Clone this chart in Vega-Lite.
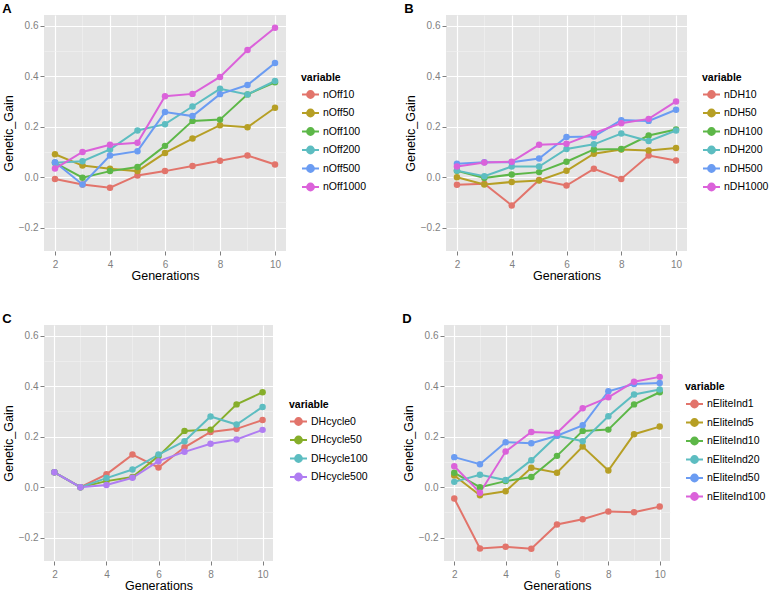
{
  "$schema": "https://vega.github.io/schema/vega-lite/v6.json",
  "padding": {"left": 2, "top": 3, "right": 0, "bottom": 0},
  "background": "white",
  "datasets": {
    "A": [
      {"Generations":2,"variable":"nOff10","Genetic_Gain":-0.007},{"Generations":3,"variable":"nOff10","Genetic_Gain":-0.029},{"Generations":4,"variable":"nOff10","Genetic_Gain":-0.042},{"Generations":5,"variable":"nOff10","Genetic_Gain":0.007},{"Generations":6,"variable":"nOff10","Genetic_Gain":0.024},{"Generations":7,"variable":"nOff10","Genetic_Gain":0.044},{"Generations":8,"variable":"nOff10","Genetic_Gain":0.065},{"Generations":9,"variable":"nOff10","Genetic_Gain":0.086},{"Generations":10,"variable":"nOff10","Genetic_Gain":0.050},
      {"Generations":2,"variable":"nOff50","Genetic_Gain":0.091},{"Generations":3,"variable":"nOff50","Genetic_Gain":0.046},{"Generations":4,"variable":"nOff50","Genetic_Gain":0.033},{"Generations":5,"variable":"nOff50","Genetic_Gain":0.024},{"Generations":6,"variable":"nOff50","Genetic_Gain":0.096},{"Generations":7,"variable":"nOff50","Genetic_Gain":0.153},{"Generations":8,"variable":"nOff50","Genetic_Gain":0.206},{"Generations":9,"variable":"nOff50","Genetic_Gain":0.198},{"Generations":10,"variable":"nOff50","Genetic_Gain":0.275},
      {"Generations":2,"variable":"nOff100","Genetic_Gain":0.057},{"Generations":3,"variable":"nOff100","Genetic_Gain":-0.002},{"Generations":4,"variable":"nOff100","Genetic_Gain":0.024},{"Generations":5,"variable":"nOff100","Genetic_Gain":0.040},{"Generations":6,"variable":"nOff100","Genetic_Gain":0.124},{"Generations":7,"variable":"nOff100","Genetic_Gain":0.223},{"Generations":8,"variable":"nOff100","Genetic_Gain":0.228},{"Generations":9,"variable":"nOff100","Genetic_Gain":0.328},{"Generations":10,"variable":"nOff100","Genetic_Gain":0.376},
      {"Generations":2,"variable":"nOff200","Genetic_Gain":0.057},{"Generations":3,"variable":"nOff200","Genetic_Gain":0.063},{"Generations":4,"variable":"nOff200","Genetic_Gain":0.110},{"Generations":5,"variable":"nOff200","Genetic_Gain":0.185},{"Generations":6,"variable":"nOff200","Genetic_Gain":0.210},{"Generations":7,"variable":"nOff200","Genetic_Gain":0.280},{"Generations":8,"variable":"nOff200","Genetic_Gain":0.350},{"Generations":9,"variable":"nOff200","Genetic_Gain":0.328},{"Generations":10,"variable":"nOff200","Genetic_Gain":0.381},
      {"Generations":2,"variable":"nOff500","Genetic_Gain":0.059},{"Generations":3,"variable":"nOff500","Genetic_Gain":-0.029},{"Generations":4,"variable":"nOff500","Genetic_Gain":0.086},{"Generations":5,"variable":"nOff500","Genetic_Gain":0.103},{"Generations":6,"variable":"nOff500","Genetic_Gain":0.258},{"Generations":7,"variable":"nOff500","Genetic_Gain":0.242},{"Generations":8,"variable":"nOff500","Genetic_Gain":0.329},{"Generations":9,"variable":"nOff500","Genetic_Gain":0.365},{"Generations":10,"variable":"nOff500","Genetic_Gain":0.452},
      {"Generations":2,"variable":"nOff1000","Genetic_Gain":0.034},{"Generations":3,"variable":"nOff1000","Genetic_Gain":0.100},{"Generations":4,"variable":"nOff1000","Genetic_Gain":0.128},{"Generations":5,"variable":"nOff1000","Genetic_Gain":0.136},{"Generations":6,"variable":"nOff1000","Genetic_Gain":0.321},{"Generations":7,"variable":"nOff1000","Genetic_Gain":0.330},{"Generations":8,"variable":"nOff1000","Genetic_Gain":0.397},{"Generations":9,"variable":"nOff1000","Genetic_Gain":0.504},{"Generations":10,"variable":"nOff1000","Genetic_Gain":0.592}
    ],
    "B": [
      {"Generations":2,"variable":"nDH10","Genetic_Gain":-0.030},{"Generations":3,"variable":"nDH10","Genetic_Gain":-0.026},{"Generations":4,"variable":"nDH10","Genetic_Gain":-0.112},{"Generations":5,"variable":"nDH10","Genetic_Gain":-0.011},{"Generations":6,"variable":"nDH10","Genetic_Gain":-0.033},{"Generations":7,"variable":"nDH10","Genetic_Gain":0.033},{"Generations":8,"variable":"nDH10","Genetic_Gain":-0.007},{"Generations":9,"variable":"nDH10","Genetic_Gain":0.086},{"Generations":10,"variable":"nDH10","Genetic_Gain":0.066},
      {"Generations":2,"variable":"nDH50","Genetic_Gain":0.000},{"Generations":3,"variable":"nDH50","Genetic_Gain":-0.029},{"Generations":4,"variable":"nDH50","Genetic_Gain":-0.019},{"Generations":5,"variable":"nDH50","Genetic_Gain":-0.013},{"Generations":6,"variable":"nDH50","Genetic_Gain":0.025},{"Generations":7,"variable":"nDH50","Genetic_Gain":0.093},{"Generations":8,"variable":"nDH50","Genetic_Gain":0.110},{"Generations":9,"variable":"nDH50","Genetic_Gain":0.106},{"Generations":10,"variable":"nDH50","Genetic_Gain":0.116},
      {"Generations":2,"variable":"nDH100","Genetic_Gain":0.025},{"Generations":3,"variable":"nDH100","Genetic_Gain":-0.003},{"Generations":4,"variable":"nDH100","Genetic_Gain":0.011},{"Generations":5,"variable":"nDH100","Genetic_Gain":0.020},{"Generations":6,"variable":"nDH100","Genetic_Gain":0.061},{"Generations":7,"variable":"nDH100","Genetic_Gain":0.110},{"Generations":8,"variable":"nDH100","Genetic_Gain":0.112},{"Generations":9,"variable":"nDH100","Genetic_Gain":0.165},{"Generations":10,"variable":"nDH100","Genetic_Gain":0.189},
      {"Generations":2,"variable":"nDH200","Genetic_Gain":0.026},{"Generations":3,"variable":"nDH200","Genetic_Gain":0.004},{"Generations":4,"variable":"nDH200","Genetic_Gain":0.042},{"Generations":5,"variable":"nDH200","Genetic_Gain":0.042},{"Generations":6,"variable":"nDH200","Genetic_Gain":0.112},{"Generations":7,"variable":"nDH200","Genetic_Gain":0.130},{"Generations":8,"variable":"nDH200","Genetic_Gain":0.173},{"Generations":9,"variable":"nDH200","Genetic_Gain":0.143},{"Generations":10,"variable":"nDH200","Genetic_Gain":0.185},
      {"Generations":2,"variable":"nDH500","Genetic_Gain":0.053},{"Generations":3,"variable":"nDH500","Genetic_Gain":0.059},{"Generations":4,"variable":"nDH500","Genetic_Gain":0.059},{"Generations":5,"variable":"nDH500","Genetic_Gain":0.074},{"Generations":6,"variable":"nDH500","Genetic_Gain":0.159},{"Generations":7,"variable":"nDH500","Genetic_Gain":0.161},{"Generations":8,"variable":"nDH500","Genetic_Gain":0.226},{"Generations":9,"variable":"nDH500","Genetic_Gain":0.223},{"Generations":10,"variable":"nDH500","Genetic_Gain":0.267},
      {"Generations":2,"variable":"nDH1000","Genetic_Gain":0.042},{"Generations":3,"variable":"nDH1000","Genetic_Gain":0.058},{"Generations":4,"variable":"nDH1000","Genetic_Gain":0.061},{"Generations":5,"variable":"nDH1000","Genetic_Gain":0.128},{"Generations":6,"variable":"nDH1000","Genetic_Gain":0.132},{"Generations":7,"variable":"nDH1000","Genetic_Gain":0.174},{"Generations":8,"variable":"nDH1000","Genetic_Gain":0.214},{"Generations":9,"variable":"nDH1000","Genetic_Gain":0.231},{"Generations":10,"variable":"nDH1000","Genetic_Gain":0.300}
    ],
    "C": [
      {"Generations":2,"variable":"DHcycle0","Genetic_Gain":0.059},{"Generations":3,"variable":"DHcycle0","Genetic_Gain":0.0},{"Generations":4,"variable":"DHcycle0","Genetic_Gain":0.051},{"Generations":5,"variable":"DHcycle0","Genetic_Gain":0.129},{"Generations":6,"variable":"DHcycle0","Genetic_Gain":0.078},{"Generations":7,"variable":"DHcycle0","Genetic_Gain":0.158},{"Generations":8,"variable":"DHcycle0","Genetic_Gain":0.219},{"Generations":9,"variable":"DHcycle0","Genetic_Gain":0.231},{"Generations":10,"variable":"DHcycle0","Genetic_Gain":0.266},
      {"Generations":2,"variable":"DHcycle50","Genetic_Gain":0.059},{"Generations":3,"variable":"DHcycle50","Genetic_Gain":0.0},{"Generations":4,"variable":"DHcycle50","Genetic_Gain":0.024},{"Generations":5,"variable":"DHcycle50","Genetic_Gain":0.040},{"Generations":6,"variable":"DHcycle50","Genetic_Gain":0.123},{"Generations":7,"variable":"DHcycle50","Genetic_Gain":0.223},{"Generations":8,"variable":"DHcycle50","Genetic_Gain":0.228},{"Generations":9,"variable":"DHcycle50","Genetic_Gain":0.328},{"Generations":10,"variable":"DHcycle50","Genetic_Gain":0.376},
      {"Generations":2,"variable":"DHcycle100","Genetic_Gain":0.059},{"Generations":3,"variable":"DHcycle100","Genetic_Gain":0.0},{"Generations":4,"variable":"DHcycle100","Genetic_Gain":0.036},{"Generations":5,"variable":"DHcycle100","Genetic_Gain":0.070},{"Generations":6,"variable":"DHcycle100","Genetic_Gain":0.129},{"Generations":7,"variable":"DHcycle100","Genetic_Gain":0.182},{"Generations":8,"variable":"DHcycle100","Genetic_Gain":0.280},{"Generations":9,"variable":"DHcycle100","Genetic_Gain":0.248},{"Generations":10,"variable":"DHcycle100","Genetic_Gain":0.318},
      {"Generations":2,"variable":"DHcycle500","Genetic_Gain":0.059},{"Generations":3,"variable":"DHcycle500","Genetic_Gain":0.0},{"Generations":4,"variable":"DHcycle500","Genetic_Gain":0.009},{"Generations":5,"variable":"DHcycle500","Genetic_Gain":0.037},{"Generations":6,"variable":"DHcycle500","Genetic_Gain":0.103},{"Generations":7,"variable":"DHcycle500","Genetic_Gain":0.140},{"Generations":8,"variable":"DHcycle500","Genetic_Gain":0.172},{"Generations":9,"variable":"DHcycle500","Genetic_Gain":0.189},{"Generations":10,"variable":"DHcycle500","Genetic_Gain":0.227}
    ],
    "D": [
      {"Generations":2,"variable":"nEliteInd1","Genetic_Gain":-0.045},{"Generations":3,"variable":"nEliteInd1","Genetic_Gain":-0.243},{"Generations":4,"variable":"nEliteInd1","Genetic_Gain":-0.236},{"Generations":5,"variable":"nEliteInd1","Genetic_Gain":-0.244},{"Generations":6,"variable":"nEliteInd1","Genetic_Gain":-0.148},{"Generations":7,"variable":"nEliteInd1","Genetic_Gain":-0.127},{"Generations":8,"variable":"nEliteInd1","Genetic_Gain":-0.096},{"Generations":9,"variable":"nEliteInd1","Genetic_Gain":-0.099},{"Generations":10,"variable":"nEliteInd1","Genetic_Gain":-0.077},
      {"Generations":2,"variable":"nEliteInd5","Genetic_Gain":0.046},{"Generations":3,"variable":"nEliteInd5","Genetic_Gain":-0.032},{"Generations":4,"variable":"nEliteInd5","Genetic_Gain":-0.016},{"Generations":5,"variable":"nEliteInd5","Genetic_Gain":0.077},{"Generations":6,"variable":"nEliteInd5","Genetic_Gain":0.057},{"Generations":7,"variable":"nEliteInd5","Genetic_Gain":0.161},{"Generations":8,"variable":"nEliteInd5","Genetic_Gain":0.066},{"Generations":9,"variable":"nEliteInd5","Genetic_Gain":0.210},{"Generations":10,"variable":"nEliteInd5","Genetic_Gain":0.240},
      {"Generations":2,"variable":"nEliteInd10","Genetic_Gain":0.057},{"Generations":3,"variable":"nEliteInd10","Genetic_Gain":0.0},{"Generations":4,"variable":"nEliteInd10","Genetic_Gain":0.024},{"Generations":5,"variable":"nEliteInd10","Genetic_Gain":0.040},{"Generations":6,"variable":"nEliteInd10","Genetic_Gain":0.124},{"Generations":7,"variable":"nEliteInd10","Genetic_Gain":0.223},{"Generations":8,"variable":"nEliteInd10","Genetic_Gain":0.228},{"Generations":9,"variable":"nEliteInd10","Genetic_Gain":0.328},{"Generations":10,"variable":"nEliteInd10","Genetic_Gain":0.376},
      {"Generations":2,"variable":"nEliteInd20","Genetic_Gain":0.021},{"Generations":3,"variable":"nEliteInd20","Genetic_Gain":0.049},{"Generations":4,"variable":"nEliteInd20","Genetic_Gain":0.028},{"Generations":5,"variable":"nEliteInd20","Genetic_Gain":0.107},{"Generations":6,"variable":"nEliteInd20","Genetic_Gain":0.204},{"Generations":7,"variable":"nEliteInd20","Genetic_Gain":0.182},{"Generations":8,"variable":"nEliteInd20","Genetic_Gain":0.281},{"Generations":9,"variable":"nEliteInd20","Genetic_Gain":0.367},{"Generations":10,"variable":"nEliteInd20","Genetic_Gain":0.387},
      {"Generations":2,"variable":"nEliteInd50","Genetic_Gain":0.119},{"Generations":3,"variable":"nEliteInd50","Genetic_Gain":0.091},{"Generations":4,"variable":"nEliteInd50","Genetic_Gain":0.178},{"Generations":5,"variable":"nEliteInd50","Genetic_Gain":0.174},{"Generations":6,"variable":"nEliteInd50","Genetic_Gain":0.204},{"Generations":7,"variable":"nEliteInd50","Genetic_Gain":0.245},{"Generations":8,"variable":"nEliteInd50","Genetic_Gain":0.380},{"Generations":9,"variable":"nEliteInd50","Genetic_Gain":0.409},{"Generations":10,"variable":"nEliteInd50","Genetic_Gain":0.413},
      {"Generations":2,"variable":"nEliteInd100","Genetic_Gain":0.083},{"Generations":3,"variable":"nEliteInd100","Genetic_Gain":-0.022},{"Generations":4,"variable":"nEliteInd100","Genetic_Gain":0.141},{"Generations":5,"variable":"nEliteInd100","Genetic_Gain":0.219},{"Generations":6,"variable":"nEliteInd100","Genetic_Gain":0.215},{"Generations":7,"variable":"nEliteInd100","Genetic_Gain":0.313},{"Generations":8,"variable":"nEliteInd100","Genetic_Gain":0.356},{"Generations":9,"variable":"nEliteInd100","Genetic_Gain":0.418},{"Generations":10,"variable":"nEliteInd100","Genetic_Gain":0.437}
    ]
  },
  "resolve": {"scale": {"color": "independent"}, "legend": {"color": "independent"}},
  "spacing": 31,
  "vconcat": [
    {
      "spacing": 37,
      "resolve": {"scale": {"color": "independent"}, "legend": {"color": "independent"}},
      "hconcat": [
        {
          "name": "pA",
          "title": "A",
          "width": 242, "height": 236,
          "data": {"name": "A"},
          "encoding": {
            "x": {"field": "Generations", "type": "quantitative", "scale": {"domain": [1.6, 10.4], "nice": false, "zero": false},
              "axis": {"title": "Generations", "values": [2,3,4,5,6,7,8,9,10], "labelExpr": "datum.value % 2 === 0 ? datum.label : ''",
                "gridColor": {"condition": {"test": "datum.value % 2 === 0", "value": "white"}, "value": "#F2F2F2"},
                "gridWidth": {"condition": {"test": "datum.value % 2 === 0", "value": 1.2}, "value": 0.6},
                "tickColor": {"condition": {"test": "datum.value % 2 === 0", "value": "#7F7F7F"}, "value": "transparent"}}},
            "y": {"field": "Genetic_Gain", "type": "quantitative", "scale": {"domain": [-0.2925, 0.6425], "nice": false, "zero": false},
              "axis": {"title": "Genetic_Gain", "values": [-0.2,-0.1,0,0.1,0.2,0.3,0.4,0.5,0.6], "format": ".1f",
                "labelExpr": "abs(round(datum.value*10)) % 2 === 0 ? datum.label : ''",
                "gridColor": {"condition": {"test": "abs(round(datum.value*10)) % 2 === 0", "value": "white"}, "value": "#F2F2F2"},
                "gridWidth": {"condition": {"test": "abs(round(datum.value*10)) % 2 === 0", "value": 1.2}, "value": 0.6},
                "tickColor": {"condition": {"test": "abs(round(datum.value*10)) % 2 === 0", "value": "#7F7F7F"}, "value": "transparent"}}},
            "color": {"field": "variable", "type": "nominal",
              "scale": {"domain": ["nOff10","nOff50","nOff100","nOff200","nOff500","nOff1000"], "range": ["#E2746B","#B69F25","#5DB748","#5DBDC1","#6B9CF2","#DB62DA"]},
              "legend": {"orient": "none", "legendX": 257, "legendY": 57.5, "title": "variable",
                "symbolType": "M-1,0L1,0M-0.4,0A0.4,0.4,0,1,0,0.4,0A0.4,0.4,0,1,0,-0.4,0Z", "symbolSize": 289, "symbolStrokeWidth": 2,
                "encode": {"symbols": {"update": {"stroke": {"scale": "pA_color", "field": "value"}, "strokeWidth": {"value": 2}}}}}}
          },
          "layer": [
            {"mark": {"type": "line", "strokeWidth": 2}},
            {"mark": {"type": "point", "filled": true, "size": 42, "opacity": 1}}
          ]
        },
        {
          "name": "pB",
          "title": "B",
          "width": 241, "height": 236,
          "data": {"name": "B"},
          "encoding": {
            "x": {"field": "Generations", "type": "quantitative", "scale": {"domain": [1.6, 10.4], "nice": false, "zero": false},
              "axis": {"title": "Generations", "values": [2,3,4,5,6,7,8,9,10], "labelExpr": "datum.value % 2 === 0 ? datum.label : ''",
                "gridColor": {"condition": {"test": "datum.value % 2 === 0", "value": "white"}, "value": "#F2F2F2"},
                "gridWidth": {"condition": {"test": "datum.value % 2 === 0", "value": 1.2}, "value": 0.6},
                "tickColor": {"condition": {"test": "datum.value % 2 === 0", "value": "#7F7F7F"}, "value": "transparent"}}},
            "y": {"field": "Genetic_Gain", "type": "quantitative", "scale": {"domain": [-0.2925, 0.6425], "nice": false, "zero": false},
              "axis": {"title": "Genetic_Gain", "values": [-0.2,-0.1,0,0.1,0.2,0.3,0.4,0.5,0.6], "format": ".1f",
                "labelExpr": "abs(round(datum.value*10)) % 2 === 0 ? datum.label : ''",
                "gridColor": {"condition": {"test": "abs(round(datum.value*10)) % 2 === 0", "value": "white"}, "value": "#F2F2F2"},
                "gridWidth": {"condition": {"test": "abs(round(datum.value*10)) % 2 === 0", "value": 1.2}, "value": 0.6},
                "tickColor": {"condition": {"test": "abs(round(datum.value*10)) % 2 === 0", "value": "#7F7F7F"}, "value": "transparent"}}},
            "color": {"field": "variable", "type": "nominal",
              "scale": {"domain": ["nDH10","nDH50","nDH100","nDH200","nDH500","nDH1000"], "range": ["#E2746B","#B69F25","#5DB748","#5DBDC1","#6B9CF2","#DB62DA"]},
              "legend": {"orient": "none", "legendX": 256, "legendY": 57.5, "title": "variable",
                "symbolType": "M-1,0L1,0M-0.4,0A0.4,0.4,0,1,0,0.4,0A0.4,0.4,0,1,0,-0.4,0Z", "symbolSize": 289, "symbolStrokeWidth": 2,
                "encode": {"symbols": {"update": {"stroke": {"scale": "pB_color", "field": "value"}, "strokeWidth": {"value": 2}}}}}}
          },
          "layer": [
            {"mark": {"type": "line", "strokeWidth": 2}},
            {"mark": {"type": "point", "filled": true, "size": 42, "opacity": 1}}
          ]
        }
      ]
    },
    {
      "spacing": 34,
      "resolve": {"scale": {"color": "independent"}, "legend": {"color": "independent"}},
      "hconcat": [
        {
          "name": "pC",
          "title": "C",
          "width": 229, "height": 236,
          "data": {"name": "C"},
          "encoding": {
            "x": {"field": "Generations", "type": "quantitative", "scale": {"domain": [1.6, 10.4], "nice": false, "zero": false},
              "axis": {"title": "Generations", "values": [2,3,4,5,6,7,8,9,10], "labelExpr": "datum.value % 2 === 0 ? datum.label : ''",
                "gridColor": {"condition": {"test": "datum.value % 2 === 0", "value": "white"}, "value": "#F2F2F2"},
                "gridWidth": {"condition": {"test": "datum.value % 2 === 0", "value": 1.2}, "value": 0.6},
                "tickColor": {"condition": {"test": "datum.value % 2 === 0", "value": "#7F7F7F"}, "value": "transparent"}}},
            "y": {"field": "Genetic_Gain", "type": "quantitative", "scale": {"domain": [-0.2925, 0.6425], "nice": false, "zero": false},
              "axis": {"title": "Genetic_Gain", "values": [-0.2,-0.1,0,0.1,0.2,0.3,0.4,0.5,0.6], "format": ".1f",
                "labelExpr": "abs(round(datum.value*10)) % 2 === 0 ? datum.label : ''",
                "gridColor": {"condition": {"test": "abs(round(datum.value*10)) % 2 === 0", "value": "white"}, "value": "#F2F2F2"},
                "gridWidth": {"condition": {"test": "abs(round(datum.value*10)) % 2 === 0", "value": 1.2}, "value": 0.6},
                "tickColor": {"condition": {"test": "abs(round(datum.value*10)) % 2 === 0", "value": "#7F7F7F"}, "value": "transparent"}}},
            "color": {"field": "variable", "type": "nominal",
              "scale": {"domain": ["DHcycle0","DHcycle50","DHcycle100","DHcycle500"], "range": ["#E2746B","#86AE2A","#5DBDC1","#B07DF2"]},
              "legend": {"orient": "none", "legendX": 245, "legendY": 74.5, "title": "variable",
                "symbolType": "M-1,0L1,0M-0.4,0A0.4,0.4,0,1,0,0.4,0A0.4,0.4,0,1,0,-0.4,0Z", "symbolSize": 289, "symbolStrokeWidth": 2,
                "encode": {"symbols": {"update": {"stroke": {"scale": "pC_color", "field": "value"}, "strokeWidth": {"value": 2}}}}}}
          },
          "layer": [
            {"mark": {"type": "line", "strokeWidth": 2}},
            {"mark": {"type": "point", "filled": true, "size": 42, "opacity": 1}}
          ]
        },
        {
          "name": "pD",
          "title": "D",
          "width": 226, "height": 236,
          "data": {"name": "D"},
          "encoding": {
            "x": {"field": "Generations", "type": "quantitative", "scale": {"domain": [1.6, 10.4], "nice": false, "zero": false},
              "axis": {"title": "Generations", "values": [2,3,4,5,6,7,8,9,10], "labelExpr": "datum.value % 2 === 0 ? datum.label : ''",
                "gridColor": {"condition": {"test": "datum.value % 2 === 0", "value": "white"}, "value": "#F2F2F2"},
                "gridWidth": {"condition": {"test": "datum.value % 2 === 0", "value": 1.2}, "value": 0.6},
                "tickColor": {"condition": {"test": "datum.value % 2 === 0", "value": "#7F7F7F"}, "value": "transparent"}}},
            "y": {"field": "Genetic_Gain", "type": "quantitative", "scale": {"domain": [-0.2925, 0.6425], "nice": false, "zero": false},
              "axis": {"title": "Genetic_Gain", "values": [-0.2,-0.1,0,0.1,0.2,0.3,0.4,0.5,0.6], "format": ".1f",
                "labelExpr": "abs(round(datum.value*10)) % 2 === 0 ? datum.label : ''",
                "gridColor": {"condition": {"test": "abs(round(datum.value*10)) % 2 === 0", "value": "white"}, "value": "#F2F2F2"},
                "gridWidth": {"condition": {"test": "abs(round(datum.value*10)) % 2 === 0", "value": 1.2}, "value": 0.6},
                "tickColor": {"condition": {"test": "abs(round(datum.value*10)) % 2 === 0", "value": "#7F7F7F"}, "value": "transparent"}}},
            "color": {"field": "variable", "type": "nominal",
              "scale": {"domain": ["nEliteInd1","nEliteInd5","nEliteInd10","nEliteInd20","nEliteInd50","nEliteInd100"], "range": ["#E2746B","#B69F25","#5DB748","#5DBDC1","#6B9CF2","#DB62DA"]},
              "legend": {"orient": "none", "legendX": 241, "legendY": 57, "title": "variable",
                "symbolType": "M-1,0L1,0M-0.4,0A0.4,0.4,0,1,0,0.4,0A0.4,0.4,0,1,0,-0.4,0Z", "symbolSize": 289, "symbolStrokeWidth": 2,
                "encode": {"symbols": {"update": {"stroke": {"scale": "pD_color", "field": "value"}, "strokeWidth": {"value": 2}}}}}}
          },
          "layer": [
            {"mark": {"type": "line", "strokeWidth": 2}},
            {"mark": {"type": "point", "filled": true, "size": 42, "opacity": 1}}
          ]
        }
      ]
    }
  ],
  "config": {
    "font": "Liberation Sans",
    "view": {"fill": "#E5E5E5", "stroke": null},
    "axis": {"domain": false, "tickSize": 4, "tickWidth": 1, "labelColor": "#7F7F7F", "labelFontSize": 10, "labelPadding": 2,
      "titleFontSize": 12.5, "titleFontWeight": "normal", "titleColor": "black", "titlePadding": 3, "labelOverlap": false},
    "axisX": {"labelPadding": 4, "titlePadding": 0},
    "legend": {"titleFontSize": 10.5, "titleFontWeight": "bold", "titleColor": "black", "labelFontSize": 10.5, "labelColor": "black",
      "rowPadding": 1.5, "titlePadding": 2, "labelOffset": 3, "padding": 0},
    "title": {"fontSize": 13, "fontWeight": "bold", "anchor": "start", "frame": "bounds", "offset": -1, "color": "black"}
  }
}
